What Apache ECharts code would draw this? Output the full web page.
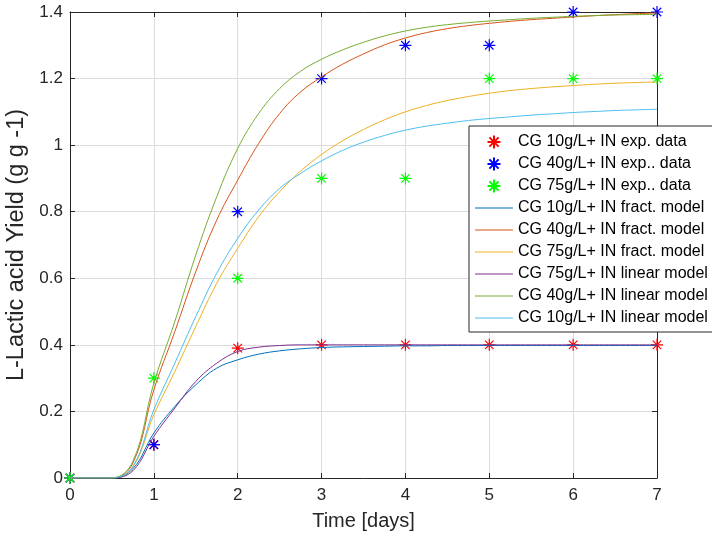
<!DOCTYPE html>
<html>
<head>
<meta charset="utf-8">
<title>L-Lactic acid yield</title>
<script src="https://cdn.jsdelivr.net/npm/echarts@6/dist/echarts.min.js"></script>
<style>
  html, body { margin: 0; padding: 0; background: #fff; }
  #chart { width: 712px; height: 538px; }
</style>
</head>
<body>
<div id="chart"></div>
<script>
// Sampling days of the measured yields
const days = [0, 1, 2, 3, 4, 5, 6, 7];
const exp10 = [0, 0.1, 0.39, 0.4, 0.4, 0.4, 0.4, 0.4];
const exp40 = [0, 0.1, 0.8, 1.2, 1.3, 1.3, 1.4, 1.4];
const exp75 = [0, 0.3, 0.6, 0.9, 0.9, 1.2, 1.2, 1.2];

// Time grid of the model curves (every 6 h)
const modelT = [0, 0.25, 0.5, 0.75, 1, 1.25, 1.5, 1.75, 2, 2.25, 2.5, 2.75, 3, 3.25, 3.5, 3.75,
  4, 4.25, 4.5, 4.75, 5, 5.25, 5.5, 5.75, 6, 6.25, 6.5, 6.75, 7];
const fract10 = [0, 0, 0, 0.028, 0.135, 0.215, 0.28, 0.33, 0.355, 0.372, 0.382, 0.388, 0.392, 0.394, 0.395, 0.396,
  0.397, 0.397, 0.398, 0.398, 0.398, 0.398, 0.398, 0.398, 0.398, 0.398, 0.398, 0.398, 0.398];
const fract40 = [0, 0, 0, 0.045, 0.265, 0.44, 0.62, 0.775, 0.895, 1.005, 1.095, 1.16, 1.205, 1.243, 1.274, 1.301,
  1.322, 1.338, 1.35, 1.359, 1.366, 1.372, 1.377, 1.381, 1.385, 1.389, 1.392, 1.395, 1.397];
const fract75 = [0, 0, 0, 0.033, 0.19, 0.32, 0.455, 0.585, 0.69, 0.785, 0.86, 0.922, 0.972, 1.013, 1.047, 1.076,
  1.1, 1.119, 1.134, 1.146, 1.156, 1.164, 1.17, 1.175, 1.179, 1.183, 1.186, 1.188, 1.19];
const linear75 = [0, 0, 0, 0.022, 0.125, 0.21, 0.29, 0.345, 0.38, 0.393, 0.398, 0.4, 0.4, 0.4, 0.4, 0.4,
  0.4, 0.4, 0.4, 0.4, 0.4, 0.4, 0.4, 0.4, 0.4, 0.4, 0.4, 0.4, 0.4];
const linear40 = [0, 0, 0, 0.05, 0.285, 0.47, 0.67, 0.845, 0.99, 1.095, 1.17, 1.222, 1.258, 1.286, 1.309, 1.328,
  1.343, 1.354, 1.362, 1.368, 1.373, 1.377, 1.381, 1.384, 1.387, 1.389, 1.391, 1.392, 1.393];
const linear10 = [0, 0, 0, 0.035, 0.205, 0.345, 0.485, 0.615, 0.72, 0.805, 0.87, 0.915, 0.953, 0.984, 1.009, 1.029,
  1.045, 1.057, 1.066, 1.074, 1.08, 1.085, 1.09, 1.094, 1.098, 1.101, 1.104, 1.106, 1.108];

const xTicks = [0, 1, 2, 3, 4, 5, 6, 7];
const yTicks = [0, 0.2, 0.4, 0.6, 0.8, 1, 1.2, 1.4];

const FONT = '"Liberation Sans", Arial, Helvetica, sans-serif';
const AXIS = '#262626';
// eight-armed asterisk marker
const STAR = 'path://M6,0L6,12M0,6L12,6M1.76,1.76L10.24,10.24M1.76,10.24L10.24,1.76';
// thin line glyph for the model entries of the legend
const LINE_ICON = 'path://M0,0L40,0L40,1L0,1Z';

const pairs = (xs, ys) => xs.map((x, i) => [x, ys[i]]);

function expSeries(name, color, ys) {
  return {
    name, type: 'scatter', data: pairs(days, ys),
    symbol: STAR, symbolSize: 12, clip: false,
    itemStyle: { color: 'rgba(0,0,0,0)', borderColor: color, borderWidth: 1.2, opacity: 1 },
    emphasis: { disabled: true }
  };
}
function modelSeries(name, color, ys) {
  return {
    name, type: 'line', data: pairs(modelT, ys),
    symbol: 'none', smooth: 0.4,
    lineStyle: { color, width: 1 }, itemStyle: { color },
    emphasis: { disabled: true }
  };
}

const series = [
  expSeries('CG 10g/L+ IN exp. data', '#ff0000', exp10),
  expSeries('CG 40g/L+ IN exp.. data', '#0000ff', exp40),
  expSeries('CG 75g/L+ IN exp.. data', '#00ff00', exp75),
  modelSeries('CG 10g/L+ IN fract. model', '#0072BD', fract10),
  modelSeries('CG 40g/L+ IN fract. model', '#D95319', fract40),
  modelSeries('CG 75g/L+ IN fract. model', '#EDB120', fract75),
  modelSeries('CG 75g/L+ IN linear model', '#7E2F8E', linear75),
  modelSeries('CG 40g/L+ IN linear model', '#77AC30', linear40),
  modelSeries('CG 10g/L+ IN linear model', '#4DBEEE', linear10)
];

const chart = echarts.init(document.getElementById('chart'), null, { renderer: 'canvas' });
chart.setOption({
  animation: false,
  backgroundColor: '#ffffff',
  textStyle: { fontFamily: FONT },
  grid: { left: 70, right: 55, top: 12, bottom: 60, containLabel: false, outerBoundsMode: 'none' },
  legend: {
    orient: 'vertical', left: 469, top: 126,
    padding: [8, 8, 6, 6], itemGap: 6, itemWidth: 38, itemHeight: 13,
    backgroundColor: '#ffffff', borderColor: AXIS, borderWidth: 1, borderRadius: 0,
    textStyle: { fontFamily: FONT, fontSize: 16, color: '#000' },
    selectedMode: false,
    data: series.map(s => s.type === 'line' ? { name: s.name, icon: LINE_ICON } : { name: s.name })
  },
  xAxis: [{
    type: 'value', min: 0, max: 7, interval: 1,
    name: 'Time [days]', nameLocation: 'middle', nameGap: 33,
    nameTextStyle: { fontFamily: FONT, fontSize: 20, color: AXIS },
    axisLine: { show: true, onZero: false, lineStyle: { color: AXIS, width: 1 } },
    axisTick: { show: true, inside: true, length: 5, lineStyle: { color: AXIS } },
    axisLabel: { fontFamily: FONT, fontSize: 17, color: AXIS, margin: 9,
      formatter: v => xTicks.includes(v) ? String(v) : '' },
    splitLine: { show: true, lineStyle: { color: '#dcdcdc', width: 1 } }
  }, {
    type: 'value', min: 0, max: 7, interval: 1, position: 'top',
    axisLine: { show: true, onZero: false, lineStyle: { color: AXIS, width: 1 } },
    axisTick: { show: true, inside: true, length: 5, lineStyle: { color: AXIS } },
    axisLabel: { show: false }, splitLine: { show: false }
  }],
  yAxis: [{
    type: 'value', min: 0, max: 1.4, interval: 0.2,
    name: 'L-Lactic acid Yield (g g -1)', nameLocation: 'middle', nameGap: 37,
    nameTextStyle: { fontFamily: FONT, fontSize: 23.5, color: AXIS },
    axisLine: { show: true, onZero: false, lineStyle: { color: AXIS, width: 1 } },
    axisTick: { show: true, inside: true, length: 5, lineStyle: { color: AXIS } },
    axisLabel: { fontFamily: FONT, fontSize: 17, color: AXIS, margin: 7,
      formatter: v => { const t = yTicks.find(k => Math.abs(k - v) < 1e-9); return t === undefined ? '' : String(t); } },
    splitLine: { show: true, lineStyle: { color: '#dcdcdc', width: 1 } }
  }, {
    type: 'value', min: 0, max: 1.4, interval: 0.2, position: 'right',
    axisLine: { show: true, onZero: false, lineStyle: { color: AXIS, width: 1 } },
    axisTick: { show: true, inside: true, length: 5, lineStyle: { color: AXIS } },
    axisLabel: { show: false }, splitLine: { show: false }
  }],
  series
});
</script>
</body>
</html>
